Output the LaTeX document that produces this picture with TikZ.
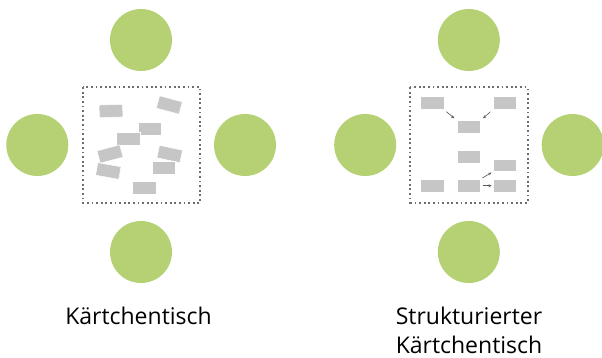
\documentclass[tikz,border=0pt]{standalone}
\usepackage{fontspec}
\setmainfont{Open Sans}
\usetikzlibrary{arrows.meta}
\definecolor{seat}{HTML}{B6D174}
\definecolor{card}{HTML}{C6C6C6}
\definecolor{dots}{HTML}{6E6E6E}
\definecolor{arr}{HTML}{555555}
\tikzset{
  seatnode/.style={circle, fill=seat, minimum size=62pt, inner sep=0pt, draw=none},
  cardnode/.style={rectangle, fill=card, draw=white, line width=0.5pt, minimum width=23.5pt, minimum height=12.7pt, inner sep=0pt},
  tablebox/.style={draw=dots, line width=1.8pt, dash pattern=on 1.8pt off 2.8pt},
  link/.style={draw=arr, line width=0.6pt, -{Stealth[length=3.2pt,width=2.8pt]}},
  caption/.style={font=\fontsize{23}{29.5}\selectfont, align=center, inner sep=0pt}
}
\begin{document}
\begin{tikzpicture}[x=1pt,y=-1pt]
\useasboundingbox (0,0) rectangle (602,358);
% left panel
\node[seatnode] (lt) at (141,40) {};
\node[seatnode] (ll) at (37.3,145) {};
\node[seatnode] (lr) at (245,145) {};
\node[seatnode] (lb) at (141,252) {};
\draw[tablebox] (82.7,87.3) rectangle (200,202.7);
\node[cardnode, rotate=2] (c1) at (111,111) {};
\node[cardnode, rotate=-15] (c2) at (169.3,105) {};
\node[cardnode] (c3) at (149.7,128.8) {};
\node[cardnode] (c4) at (128.3,139) {};
\node[cardnode, rotate=15] (c5) at (110,154) {};
\node[cardnode, rotate=-12] (c6) at (169.7,154) {};
\node[cardnode, rotate=-10] (c7) at (108.3,171) {};
\node[cardnode] (c8) at (163.5,168) {};
\node[cardnode] (c9) at (144,188) {};
\node[caption, anchor=base] (t1) at (138.5,324.3) {Kärtchentisch};
% right panel
\node[seatnode] (rt) at (468.8,40) {};
\node[seatnode] (rl) at (365.2,145) {};
\node[seatnode] (rr) at (572.7,145) {};
\node[seatnode] (rb) at (468.8,252) {};
\draw[tablebox] (410.3,87.3) rectangle (527.7,202.7);
\node[cardnode] (a) at (432,103) {};
\node[cardnode] (b) at (504.7,103) {};
\node[cardnode] (c) at (468.7,127) {};
\node[cardnode] (d) at (468.7,157) {};
\node[cardnode] (e) at (504.7,165.2) {};
\node[cardnode] (f) at (432,185.7) {};
\node[cardnode] (g) at (468.7,185.7) {};
\node[cardnode] (h) at (504.7,185.7) {};
\draw[link, shorten <=3.2pt, shorten >=3.2pt] (a.south east) -- (c.north west);
\draw[link, shorten <=3.2pt, shorten >=3.2pt] (b.south west) -- (c.north east);
\draw[link, shorten <=2pt, shorten >=1.5pt] (g.north east) -- (e.south west);
\draw[link, shorten <=1.8pt, shorten >=1pt] (g.east) -- (h.west);
\node[caption, anchor=base] (t2) at (469,353.5) {Strukturierter\\Kärtchentisch};
\end{tikzpicture}
\end{document}
